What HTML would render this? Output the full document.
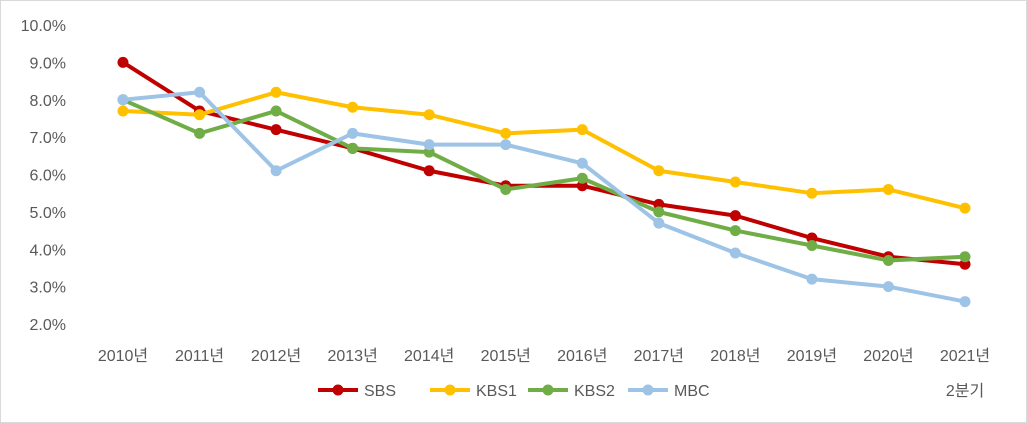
<!DOCTYPE html>
<html><head><meta charset="utf-8"><style>
body{margin:0;background:#fff}
svg{display:block;font-family:"Liberation Sans","Noto Sans CJK KR",sans-serif}
</style></head><body>
<svg id="chart" width="1027" height="423">
<rect x="0.5" y="0.5" width="1026" height="422" fill="#fff" stroke="#d9d9d9"/>
<g id="yaxis"></g>
<g id="xaxis"></g>
<g id="series"></g>
<g id="legend"></g>
</svg>
<script>
const categories=["2010년","2011년","2012년","2013년","2014년","2015년","2016년","2017년","2018년","2019년","2020년","2021년"];
const yTicks=[2,3,4,5,6,7,8,9,10];
const seriesNames=["SBS","KBS1","KBS2","MBC"];
const sbs=[9.0,7.7,7.2,6.7,6.1,5.7,5.7,5.2,4.9,4.3,3.8,3.6];
const kbs1=[7.7,7.6,8.2,7.8,7.6,7.1,7.2,6.1,5.8,5.5,5.6,5.1];
const kbs2=[8.0,7.1,7.7,6.7,6.6,5.6,5.9,5.0,4.5,4.1,3.7,3.8];
const mbc=[8.0,8.2,6.1,7.1,6.8,6.8,6.3,4.7,3.9,3.2,3.0,2.6];
const NS="http://www.w3.org/2000/svg";
const colors=["#C00000","#FFC000","#70AD47","#9DC3E6"];
const x=i=>123+i*(965-123)/(categories.length-1);
const y=v=>324-(v-2)*(324-25)/8;
function mk(t,a,p){const e=document.createElementNS(NS,t);for(const k in a)e.setAttribute(k,a[k]);p.appendChild(e);return e;}
const ya=document.getElementById('yaxis');
yTicks.forEach(v=>{const t=mk('text',{x:66,y:y(v)+6,'text-anchor':'end','font-size':16,fill:'#595959'},ya);t.textContent=v.toFixed(1)+'%';

});
const xa=document.getElementById('xaxis');
categories.forEach((c,i)=>{const t=mk('text',{x:x(i),y:361,'text-anchor':'middle','font-size':16,fill:'#595959'},xa);t.textContent=c;

});
const q=mk('text',{x:x(11),y:396,'text-anchor':'middle','font-size':16,fill:'#595959'},xa);q.textContent='2분기';


const sg=document.getElementById('series');
[sbs,kbs1,kbs2,mbc].forEach((d,s)=>{
 const g=mk('g',{},sg);
 
 
 const l=mk('polyline',{points:d.map((v,i)=>x(i)+','+y(v)).join(' '),fill:'none',stroke:colors[s],'stroke-width':4,'stroke-linejoin':'round'},g);
 
 
 d.forEach((v,i)=>{const c=mk('circle',{cx:x(i),cy:y(v),r:5.5,fill:colors[s]},g);
 
 });
});
const lg=document.getElementById('legend');
const lx=[318,430,528,628];
seriesNames.forEach((n,s)=>{
 const g=mk('g',{},lg);
 
 
 mk('line',{x1:lx[s],y1:390,x2:lx[s]+40,y2:390,stroke:colors[s],'stroke-width':4},g);
 mk('circle',{cx:lx[s]+20,cy:390,r:5.5,fill:colors[s]},g);
 const t=mk('text',{x:lx[s]+46,y:396,'font-size':16,fill:'#595959'},g);t.textContent=n;
});
</script>
</body></html>
